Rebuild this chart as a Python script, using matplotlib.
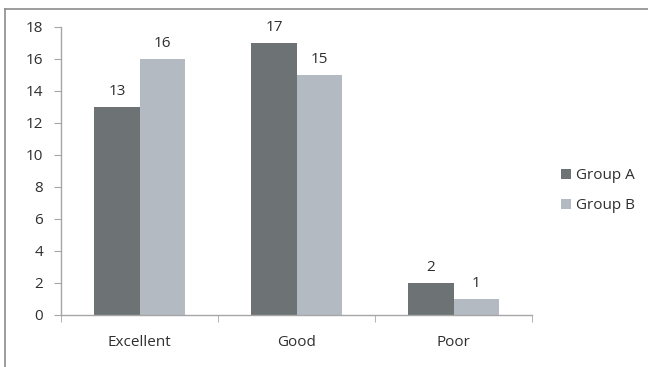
import matplotlib
matplotlib.use("Agg")
import matplotlib.pyplot as plt
from matplotlib.lines import Line2D
import numpy as np

categories = ["Excellent", "Good", "Poor"]
group_a = [13, 17, 2]
group_b = [16, 15, 1]
series_names = ["Group A", "Group B"]
yticks = [0, 2, 4, 6, 8, 10, 12, 14, 16, 18]

plt.rcParams['font.family'] = ['Open Sans', 'DejaVu Sans']
col_a = "#6d7374"
col_b = "#b4bac2"
axis_col = "#a6a6a6"
text_col = "#2f2f2f"
fs = 11

fig = plt.figure(figsize=(6.48, 3.67), dpi=100)
ax = fig.add_axes([61/648, (367-315)/367, (532-61)/648, (315-27)/367])

x = np.arange(len(categories))
w = 0.287
ba = ax.bar(x - w/2, group_a, w, color=col_a, label=series_names[0])
bb = ax.bar(x + w/2, group_b, w, color=col_b, label=series_names[1])
for bars in (ba, bb):
    for r in bars:
        ax.annotate(f"{int(r.get_height())}", (r.get_x() + r.get_width()/2, r.get_height()),
                    xytext=(0, 6), textcoords="offset points", ha="center", va="bottom",
                    fontsize=fs, color=text_col)

ax.set_xlim(-0.5, 2.5)
ax.set_ylim(0, 18)
ax.set_yticks(yticks)
ax.set_xticks(x)
ax.set_xticklabels(categories)
ax.set_xticks([-0.5, 0.5, 1.5, 2.5], minor=True)
ax.tick_params(axis='x', which='major', length=0, pad=14.5, labelsize=fs, labelcolor=text_col)
ax.tick_params(axis='x', which='minor', length=5, color=axis_col, direction='out')
ax.tick_params(axis='y', length=5, color=axis_col, labelsize=fs, labelcolor=text_col, pad=8)
for s in ("top", "right"):
    ax.spines[s].set_visible(False)
for s in ("left", "bottom"):
    ax.spines[s].set_color(axis_col)
    ax.spines[s].set_linewidth(1.0)

ax.legend(loc="upper left", bbox_to_anchor=(561/648, 1 - 168/367), bbox_transform=fig.transFigure,
          frameon=False, fontsize=fs, handlelength=0.65, handleheight=0.65, handletextpad=0.3,
          labelspacing=1.0, labelcolor=text_col, borderpad=0, borderaxespad=0)

fig.add_artist(Line2D([5/648, 5/648], [0, 1 - 8.5/367], transform=fig.transFigure, color="#8c8c8c", lw=1.2))
fig.add_artist(Line2D([5/648, 1], [1 - 8.5/367, 1 - 8.5/367], transform=fig.transFigure, color="#8c8c8c", lw=1.2))

fig.savefig("out.png", dpi=100)
